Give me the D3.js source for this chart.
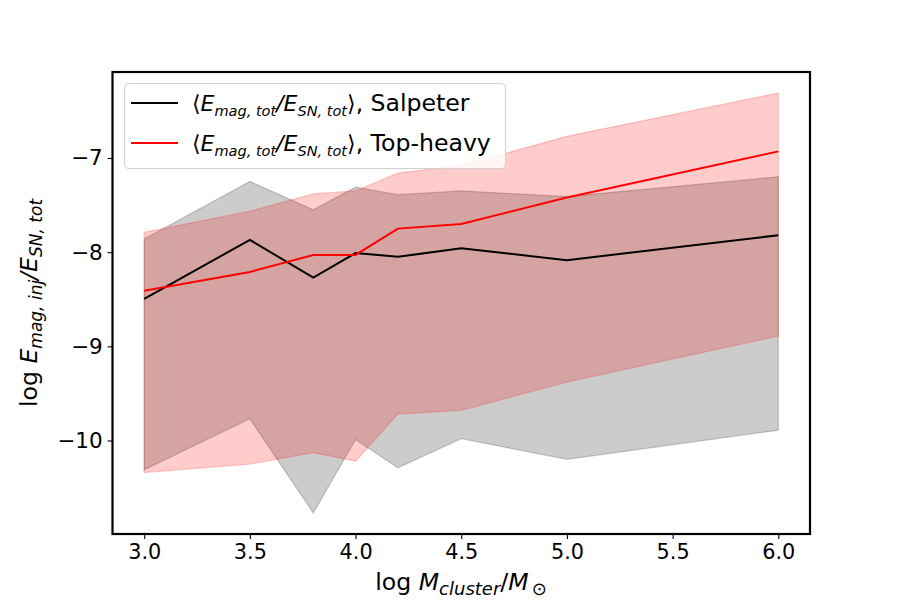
<!DOCTYPE html>
<html><head><meta charset="utf-8">
<script src="https://cdn.jsdelivr.net/npm/d3@7"></script>
<style>body{margin:0;background:#fff}svg{display:block;font-family:"DejaVu Sans",sans-serif}</style>
</head><body><svg id="c" width="900" height="600"></svg>
<script>
const logMass = [3.0, 3.5, 3.8, 4.0, 4.2, 4.5, 5.0, 6.0];
const salpeterMean = [-8.495, -7.87, -8.27, -8.01, -8.05, -7.96, -8.085, -7.82];
const salpeterUpper = [-7.86, -7.25, -7.55, -7.31, -7.39, -7.35, -7.41, -7.20];
const salpeterLower = [-10.31, -9.77, -10.77, -9.99, -10.29, -9.98, -10.20, -9.89];
const topHeavyMean = [-8.41, -8.21, -8.03, -8.03, -7.75, -7.70, -7.42, -6.93];
const topHeavyUpper = [-7.79, -7.565, -7.38, -7.35, -7.16, -7.08, -6.77, -6.31];
const topHeavyLower = [-10.34, -10.25, -10.13, -10.22, -9.72, -9.68, -9.38, -8.89];
const xTicks = [3.0, 3.5, 4.0, 4.5, 5.0, 5.5, 6.0];
const yTicks = [-10, -9, -8, -7];

const svg = d3.select("#c");
const L = 112.5, R = 810, T = 72, B = 534;
const FS = 20.8;

const xr = d3.extent(logMass), xp = (xr[1]-xr[0])*0.05;
const allY = salpeterLower.concat(salpeterUpper, topHeavyLower, topHeavyUpper);
const yr = d3.extent(allY), yp = (yr[1]-yr[0])*0.05;
const x = d3.scaleLinear().domain([xr[0]-xp, xr[1]+xp]).range([L, R]);
const y = d3.scaleLinear().domain([yr[0]-yp, yr[1]+yp]).range([B, T]);

const idx = d3.range(logMass.length);
const area = (lo, hi) => d3.area().x(i => x(logMass[i])).y0(i => y(lo[i])).y1(i => y(hi[i]));
const line = (v) => d3.line().x(i => x(logMass[i])).y(i => y(v[i]));

const g = svg.append("g");
g.append("path").attr("d", area(salpeterLower, salpeterUpper)(idx))
  .attr("fill", "rgba(0,0,0,0.2)").attr("stroke", "rgba(0,0,0,0.2)").attr("stroke-width", 1.2);
g.append("path").attr("d", area(topHeavyLower, topHeavyUpper)(idx))
  .attr("fill", "rgba(255,0,0,0.2)").attr("stroke", "rgba(255,0,0,0.2)").attr("stroke-width", 1.2);
g.append("path").attr("d", line(salpeterMean)(idx)).attr("fill", "none").attr("stroke", "#000").attr("stroke-width", 2);
g.append("path").attr("d", line(topHeavyMean)(idx)).attr("fill", "none").attr("stroke", "#f00").attr("stroke-width", 2);

// axes
const xAxis = d3.axisBottom(x).tickValues(xTicks).tickFormat(d3.format(".1f")).tickSize(4.9).tickPadding(4.9);
const yAxis = d3.axisLeft(y).tickValues(yTicks).tickFormat(d => "\u2212" + Math.abs(d)).tickSize(4.9).tickPadding(4.9);
const gx = svg.append("g").attr("transform", `translate(0,${B})`).call(xAxis);
const gy = svg.append("g").attr("transform", `translate(${L},0)`).call(yAxis);
[gx, gy].forEach(a => {
  a.select(".domain").remove();
  a.selectAll(".tick line").attr("stroke", "#000").attr("stroke-width", 1.1);
  a.selectAll(".tick text").attr("font-size", FS).attr("font-family", "DejaVu Sans").attr("fill", "#000");
});
gx.selectAll(".tick text").attr("dy", "0.75em");
gy.selectAll(".tick text").attr("font-size", 21.5);
svg.append("rect").attr("x", L).attr("y", T).attr("width", R-L).attr("height", B-T)
  .attr("fill", "none").attr("stroke", "#000").attr("stroke-width", 2.2);

// math-like text helper
function mathText(sel, parts, fs, sfs, mfs) {
  sel.attr("font-size", fs);
  const sd = fs*0.2;
  parts.forEach(p => {
    const t = sel.append("tspan").text(p.t);
    if (p.i) t.attr("font-style", "italic");
    if (p.m && mfs) t.attr("font-size", mfs);
    if (p.sub) t.attr("font-size", sfs).attr("dy", p.dy ? sd : null);
    if (p.up) t.attr("dy", -sd);
    if (p.dx) t.attr("dx", p.dx);
  });
}

// x label
const xl = svg.append("text").attr("x", 461).attr("y", 590).attr("text-anchor", "middle");
mathText(xl, [{t:"log "},{t:"M",i:1},{t:"cluster",i:1,sub:1,dy:1},{t:"/",up:1},{t:"M",i:1},{t:"\u2299",sub:1,dy:1,dx:3}], 23.6, 18);

// y label
const yl = svg.append("text").attr("transform", "translate(37,303) rotate(-90)").attr("text-anchor", "middle");
mathText(yl, [{t:"log "},{t:"E",i:1},{t:"mag, inj",i:1,sub:1,dy:1},{t:"/",i:1,up:1},{t:"E",i:1},{t:"SN, tot",i:1,sub:1,dy:1}], 23.6, 17);

// legend
const legendLabels = ["Salpeter", "Top-heavy"];
const legendColors = ["#000", "#f00"];
const lg = svg.append("g");
lg.append("rect").attr("x", 124.5).attr("y", 83.5).attr("width", 381).attr("height", 85).attr("rx", 4)
  .attr("fill", "rgba(255,255,255,0.8)").attr("stroke", "#d0d0d0").attr("stroke-width", 1);
legendLabels.forEach((lab, k) => {
  const yy = 103 + k*40;
  lg.append("line").attr("x1", 131).attr("x2", 178).attr("y1", yy).attr("y2", yy)
    .attr("stroke", legendColors[k]).attr("stroke-width", 2);
  const t = lg.append("text").attr("x", 192).attr("y", yy + 8);
  mathText(t, [{t:"\u27E8",m:1},{t:"E",i:1,m:1},{t:"mag, tot",i:1,sub:1,dy:1},{t:"/",i:1,up:1,m:1},{t:"E",i:1,m:1},{t:"SN, tot",i:1,sub:1,dy:1},{t:"\u27E9",up:1,m:1},{t:", " + lab}], 23.6, 14.5, 22);
});
</script></body></html>
